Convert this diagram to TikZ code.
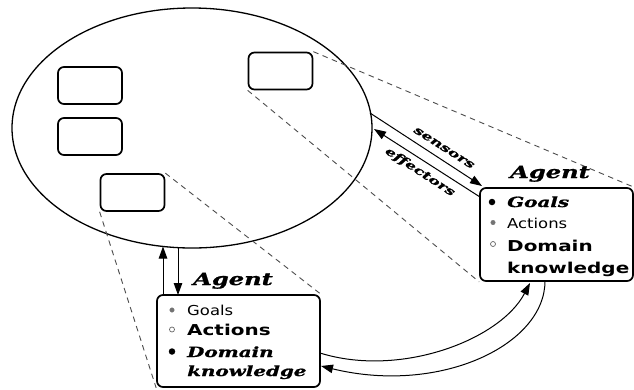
\documentclass[tikz,border=0pt]{standalone}
\usepackage{fontspec}
\usetikzlibrary{shapes.geometric,arrows.meta}
\newfontfamily\agserif[FakeStretch=1.42,FakeBold=1.2]{DejaVu Serif Bold Italic}
\newfontfamily\agsans[FakeStretch=1.2]{DejaVu Sans}
\newfontfamily\agsansb[FakeStretch=1.33]{DejaVu Sans Bold}
\tikzset{
  envbox/.style={draw, line width=1.7pt, rounded corners=6pt, minimum width=64pt, minimum height=37pt, inner sep=0pt},
  agentbox/.style={draw, line width=1.7pt, rounded corners=6pt, inner sep=0pt},
  dashln/.style={dash pattern=on 5.5pt off 4.5pt, line width=0.9pt, black!70},
  arr/.style={-{Triangle[length=12pt,width=8.5pt]}, line width=1pt},
  agtitle/.style={font=\agserif\fontsize{17}{17}\selectfont, anchor=base, inner sep=0pt},
  itemBI/.style={font=\agserif\fontsize{14}{14}\selectfont, anchor=base west, inner sep=0pt},
  itemR/.style={font=\agsans\fontsize{13.7}{14}\selectfont, anchor=base west, inner sep=0pt},
  itemB/.style={font=\agsansb\fontsize{15}{15}\selectfont, anchor=base west, inner sep=0pt},
  lbl/.style={font=\agserif\fontsize{11.5}{11.5}\selectfont, inner sep=0pt},
  dotblack/.style={circle, fill=black, minimum size=6.5pt, inner sep=0pt},
  dotgrey/.style={circle, fill=black!55, draw=black!55, minimum size=4.5pt, inner sep=0pt},
  dotwhite/.style={circle, fill=white, draw=black!60, line width=0.7pt, minimum size=5pt, inner sep=0pt},
}
\begin{document}
\begin{tikzpicture}[x=1pt,y=-1pt]
\useasboundingbox (0,0) rectangle (634,389);

% environment
\node[ellipse, draw, line width=1.3pt, minimum width=360pt, minimum height=240pt, inner sep=0pt] (env) at (192,128) {};
\node[envbox] (A) at (90,85.5) {};
\node[envbox] (B) at (90,136.5) {};
\node[envbox] (C) at (132.5,192.5) {};
\node[envbox] (D) at (280.5,71) {};

% agent boxes
\node[agentbox, minimum width=153pt, minimum height=93pt] (rbox) at (556.5,234.5) {};
\node[agentbox, minimum width=163pt, minimum height=92pt] (lbox) at (238.5,341) {};

% dashed projections
\draw[dashln] (D.north east) -- (rbox.north east);
\draw[dashln] (D.south west) -- (rbox.south west);
\draw[dashln] (C.north east) -- (lbox.north east);
\draw[dashln] (C.south west) -- (lbox.south west);

% right agent text
\node[agtitle] (rtitle) at (550,178) {Agent};
\node[dotblack] (rb1) at (492,202) {};
\node[dotgrey] (rb2) at (493,222.5) {};
\node[dotwhite] (rb3) at (493,244) {};
\node[itemBI] (rt1) at (507,207) {Goals};
\node[itemR] (rt2) at (507,228) {Actions};
\node[itemB] (rt3) at (507,251) {Domain};
\node[itemB] (rt4) at (507,273) {knowledge};

% left agent text
\node[agtitle] (ltitle) at (233,285) {Agent};
\node[dotgrey] (lb1) at (172,310) {};
\node[dotwhite] (lb2) at (172,329.5) {};
\node[dotblack] (lb3) at (172,351.5) {};
\node[itemR] (lt1) at (187,315) {Goals};
\node[itemB] (lt2) at (187,335) {Actions};
\node[itemBI] (lt3) at (187,357) {Domain};
\node[itemBI] (lt4) at (187,376) {knowledge};

% sensors / effectors
\coordinate (sA) at (370,113);
\coordinate (sB) at (482,186);
\coordinate (eA) at (480,197);
\coordinate (eB) at (374,129);
\draw[arr] (sA) -- (sB);
\draw[arr] (eA) -- (eB);
\node[lbl, rotate=-32.5] (sens) at (444,148) {sensors};
\node[lbl, rotate=-33] (eff) at (420,172) {effectors};

% vertical arrows
\coordinate (u1) at (163,295);
\coordinate (u2) at (163,246.5);
\coordinate (d1) at (178,247.5);
\coordinate (d2) at (178,295);
\draw[arr] (u1) -- (u2);
\draw[arr] (d1) -- (d2);

% curved arrows between agents
\coordinate (c1) at (320,353);
\coordinate (c2) at (530,283);
\coordinate (c3) at (545,281);
\coordinate (c4) at (321,366);
\draw[arr] (c1) .. controls (400,378) and (500,340) .. (c2);
\draw[arr] (c3) .. controls (545,345) and (440,395) .. (c4);
\end{tikzpicture}
\end{document}
